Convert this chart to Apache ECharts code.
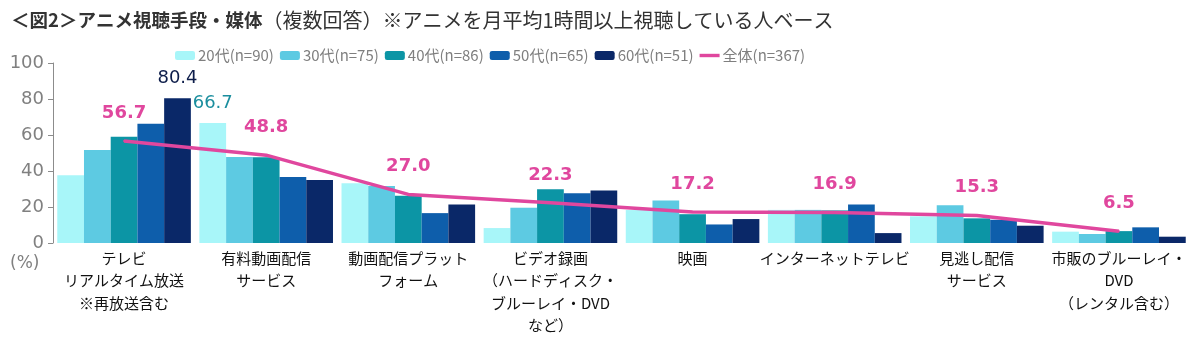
<!DOCTYPE html>
<html>
<head>
<meta charset="utf-8">
<script src="https://cdn.jsdelivr.net/npm/echarts@6/dist/echarts.min.js"></script>
<style>
  html, body { margin: 0; padding: 0; background: #fff; }
  #chart { width: 1200px; height: 337px; }
</style>
</head>
<body>
<div id="chart"></div>
<script>
// Viewing methods / media, multiple answers, by age group (%)
const categories = [
  'テレビ\nリアルタイム放送\n※再放送含む',
  '有料動画配信\nサービス',
  '動画配信プラット\nフォーム',
  'ビデオ録画\n（ハードディスク・\nブルーレイ・DVD\nなど）',
  '映画',
  'インターネットテレビ',
  '見逃し配信\nサービス',
  '市販のブルーレイ・\nDVD\n（レンタル含む）'
];
const seriesNames = ['20代(n=90)', '30代(n=75)', '40代(n=86)', '50代(n=65)', '60代(n=51)'];
const age20 = [37.6, 66.7, 33.2, 8.3, 18.3, 18.4, 14.8, 6.3];
const age30 = [51.6, 47.8, 31.7, 19.6, 23.6, 18.4, 21.0, 5.0];
const age40 = [59.0, 47.6, 26.2, 29.9, 16.0, 18.1, 13.7, 6.6];
const age50 = [66.2, 36.7, 16.6, 27.7, 10.3, 21.4, 12.9, 8.7];
const age60 = [80.4, 35.0, 21.4, 29.2, 13.3, 5.5, 9.6, 3.5];
const totalName = '全体(n=367)';
const total = [56.7, 48.8, 27.0, 22.3, 17.2, 16.9, 15.3, 6.5];
const yTicks = [0, 20, 40, 60, 80, 100];

const barColors = ['#A8F6F9', '#5DCAE2', '#0C95A5', '#0E5EAB', '#0A2868'];
const lineColor = '#E0479E';
const numFont = '"DejaVu Sans", Verdana, sans-serif';
const jpFont = '"Noto Sans CJK JP", "Noto Sans", sans-serif';

// single highlighted value per series: [seriesIndex, dataIndex, colour]
const callouts = [[0, 1, '#1B8E9E'], [4, 0, '#0D1D4A']];

const oneDecimal = p => Number(p.value).toFixed(1);

const barData = [age20, age30, age40, age50, age60];
const barSeries = barData.map((vals, si) => ({
  name: seriesNames[si],
  type: 'bar',
  barGap: '0%',
  barCategoryGap: '6%',
  itemStyle: { color: barColors[si] },
  data: vals.map((v, di) => {
    const c = callouts.find(k => k[0] === si && k[1] === di);
    if (!c) return v;
    return {
      value: v,
      label: {
        show: true, position: 'top', distance: 11, formatter: oneDecimal,
        color: c[2], fontFamily: numFont, fontSize: 18
      }
    };
  })
}));

// legend swatch for the total line: a thick stroke inside a 20x9 box
const lineIcon = 'path://M0,0M20,9M0,2.8L20,2.8L20,6.2L0,6.2Z';

const chart = echarts.init(document.getElementById('chart'), null, { renderer: 'canvas' });
chart.setOption({
  animation: false,
  backgroundColor: '#fff',
  title: {
    left: 6, top: 5,
    text: '{a|＜図2＞アニメ視聴手段・媒体}{b|（複数回答）※アニメを月平均1時間以上視聴している人ベース}',
    textStyle: {
      rich: {
        a: { fontFamily: jpFont, fontSize: 18.5, fontWeight: 'bold', color: '#333' },
        b: { fontFamily: jpFont, fontSize: 20, fontWeight: 'normal', color: '#333' }
      }
    }
  },
  legend: {
    left: 170, top: 43,
    itemWidth: 20, itemHeight: 9, itemGap: 6,
    textStyle: { fontFamily: jpFont, fontSize: 15, color: '#7f7f7f', padding: [0, 0, 0, -2] },
    data: seriesNames.concat([{ name: totalName, icon: lineIcon }])
  },
  grid: { left: 53, right: 10, top: 63, bottom: 93, containLabel: false },
  xAxis: {
    type: 'category',
    data: categories,
    axisLine: { show: false },
    axisTick: { show: false },
    axisLabel: {
      interval: 0, margin: 4,
      fontFamily: jpFont, fontSize: 15, lineHeight: 22.5, color: '#111'
    }
  },
  yAxis: {
    type: 'value',
    min: yTicks[0], max: yTicks[yTicks.length - 1], interval: 20,
    splitLine: { show: false },
    axisLine: { show: true, lineStyle: { color: '#8c8c8c', width: 1 } },
    axisTick: { show: true, length: 5, lineStyle: { color: '#8c8c8c' } },
    axisLabel: { fontFamily: numFont, fontSize: 18, color: '#808080', margin: 9 }
  },
  graphic: [{
    type: 'text', left: 10, top: 255,
    style: { text: '(%)', font: '17px ' + numFont, fill: '#808080' }
  }],
  series: barSeries.concat([{
    name: totalName,
    type: 'line',
    symbol: 'circle',
    symbolSize: 2,
    showSymbol: true,
    z: 5,
    itemStyle: { color: lineColor },
    lineStyle: { color: lineColor, width: 3.5 },
    label: {
      show: true, position: 'top', distance: 18, formatter: oneDecimal,
      fontFamily: numFont, fontSize: 18, fontWeight: 'bold', color: lineColor
    },
    labelLayout: { hideOverlap: false },
    data: total
  }])
});
</script>
</body>
</html>
